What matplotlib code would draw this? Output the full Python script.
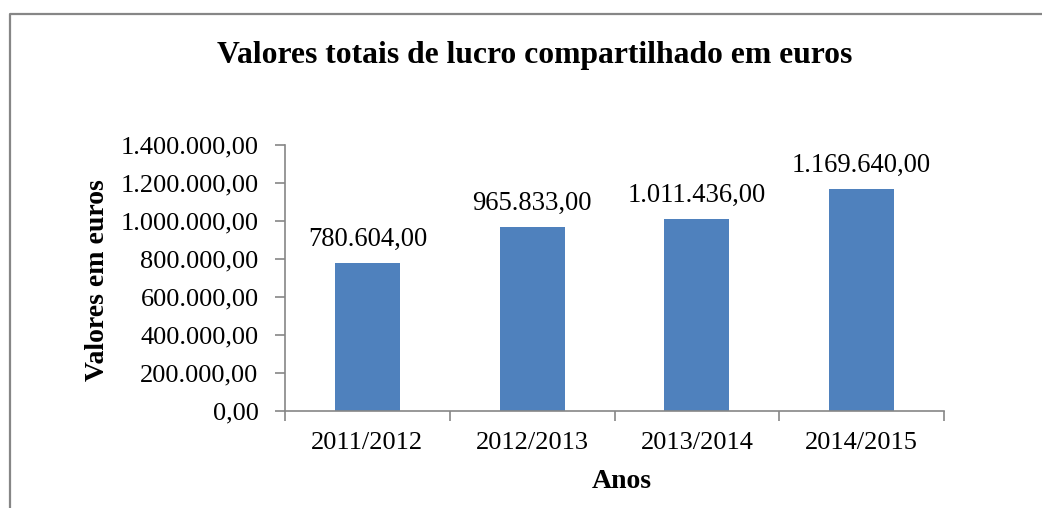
import matplotlib
matplotlib.use("Agg")
import matplotlib.pyplot as plt
from matplotlib.ticker import FuncFormatter, MultipleLocator
from matplotlib.lines import Line2D

categories = ["2011/2012", "2012/2013", "2013/2014", "2014/2015"]
values = [780604.00, 965833.00, 1011436.00, 1169640.00]
title = "Valores totais de lucro compartilhado em euros"
ylabel = "Valores em euros"
xlabel = "Anos"

plt.rcParams['font.family'] = ['Liberation Serif', 'DejaVu Serif']

def fmt(v):
    s = f"{v:,.2f}"
    return s.replace(",", "X").replace(".", ",").replace("X", ".")

W, H = 1042, 508
fig = plt.figure(figsize=(W / 100, H / 100), dpi=100)
ax = fig.add_axes([285 / W, 1 - 411 / H, (944 - 285) / W, (411 - 145) / H])

x = range(len(categories))
ax.bar(x, values, width=0.395, color="#4F81BD", zorder=2)
for xi, v in zip(x, values):
    ax.annotate(fmt(v), (xi, v), xytext=(0, 8), textcoords="offset points",
                ha="center", va="bottom", fontsize=19.2)

ax.set_xlim(-0.5, len(categories) - 0.5)
ax.set_ylim(0, 1400000)
ax.yaxis.set_major_locator(MultipleLocator(200000))
ax.yaxis.set_major_formatter(FuncFormatter(lambda v, p: fmt(v)))
ax.set_xticks(list(x))
ax.set_xticklabels(categories)
ax.set_xticks([i - 0.5 for i in range(len(categories) + 1)], minor=True)
ax.tick_params(axis="x", which="major", length=0, pad=15, labelsize=19)
ax.tick_params(axis="x", which="minor", length=7, color="#868686", width=1.2)
ax.tick_params(axis="y", length=7, color="#868686", width=1.2, labelsize=19, pad=12)

for s in ["top", "right"]:
    ax.spines[s].set_visible(False)
for s in ["left", "bottom"]:
    ax.spines[s].set_color("#868686")
    ax.spines[s].set_linewidth(1.2)

fig.text(98 / W, 1 - 280 / H, ylabel, rotation=90, ha="center", va="center",
         fontsize=20, fontweight="bold")
fig.text(622 / W, 1 - 481 / H, xlabel, ha="center", va="center",
         fontsize=20, fontweight="bold")
fig.text(535 / W, 1 - 55 / H, title, ha="center", va="center",
         fontsize=22.8, fontweight="bold")

# outer frame (top and left edges visible)
fig.add_artist(Line2D([9.5 / W, 9.5 / W, 1.0], [0.0, 1 - 13.5 / H, 1 - 13.5 / H],
                      transform=fig.transFigure, color="#868686", linewidth=1.6))

fig.savefig("out.png", dpi=100)
